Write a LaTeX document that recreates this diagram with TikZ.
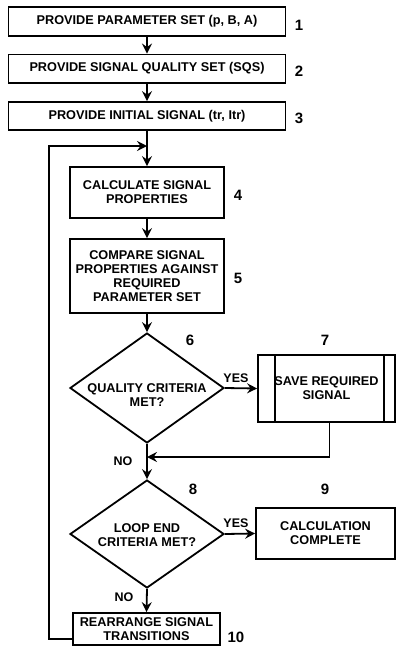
\documentclass[tikz,border=0pt]{standalone}
\usepackage{fontspec}
\setmainfont{Liberation Sans}
\usetikzlibrary{shapes.geometric,arrows.meta,calc}
\begin{document}
\begin{tikzpicture}[x=1pt,y=-1pt,
  line width=1.8pt,
  every node/.style={font=\bfseries\fontsize{12.7}{14}\selectfont, align=center, inner sep=0pt},
  stepbox/.style={draw, rectangle, line width=1.8pt},
  decision/.style={draw, diamond, line width=1.8pt},
  num/.style={font=\bfseries\fontsize{15}{17}\selectfont},
  yn/.style={font=\bfseries\fontsize{12.5}{14}\selectfont},
  arr/.style={-{Stealth[length=10pt,width=10pt,inset=3.5pt]}, line width=1.8pt}]
\useasboundingbox (0,0) rectangle (396,667);
% boxes
\node[stepbox, minimum width=277pt, minimum height=29pt] (b1) at (147,21.7) {PROVIDE PARAMETER SET (p, B, A)};
\node[stepbox, minimum width=277pt, minimum height=28.5pt] (b2) at (147,68.7) {PROVIDE SIGNAL QUALITY SET (SQS)};
\node[stepbox, minimum width=277pt, minimum height=28pt] (b3) at (147,116) {PROVIDE INITIAL SIGNAL (tr, Itr)};
\node[stepbox, minimum width=154pt, minimum height=51pt] (b4) at (147,192.5) {CALCULATE SIGNAL\\PROPERTIES};
\node[stepbox, minimum width=154pt, minimum height=74pt] (b5) at (147,276) {COMPARE SIGNAL\\PROPERTIES AGAINST\\REQUIRED\\PARAMETER SET};
\node[decision, minimum width=154pt, minimum height=110pt] (d6) at (147,388) {};
\node (d6t) at (147,395) {QUALITY CRITERIA\\MET?};
\node[stepbox, minimum width=137pt, minimum height=67pt] (b7) at (326.5,388.5) {SAVE REQUIRED\\SIGNAL};
\draw ($(b7.north west)+(18,0)$) -- ($(b7.south west)+(18,0)$);
\draw ($(b7.north east)+(-12,0)$) -- ($(b7.south east)+(-12,0)$);
\node[decision, minimum width=154pt, minimum height=108pt] (d8) at (147,534) {};
\node (d8t) at (147,535) {LOOP END\\CRITERIA MET?};
\node[stepbox, minimum width=139pt, minimum height=51pt] (b9) at (325.5,533.5) {CALCULATION\\COMPLETE};
\node[stepbox, minimum width=147pt, minimum height=32pt] (b10) at (146.5,629) {REARRANGE SIGNAL\\TRANSITIONS};
% numbers
\node[num] (n1) at (299,25) {1};
\node[num] (n2) at (299,71) {2};
\node[num] (n3) at (299,118) {3};
\node[num] (n4) at (238,195) {4};
\node[num] (n5) at (238,278) {5};
\node[num] (n6) at (190,340) {6};
\node[num] (n7) at (325,340) {7};
\node[num] (n8) at (193,489) {8};
\node[num] (n9) at (325,489) {9};
\node[num] (n10) at (236,637) {10};
% yes/no
\node[yn] (y6) at (236,378) {YES};
\node[yn] (no6) at (123,461) {NO};
\node[yn] (y8) at (236,523) {YES};
\node[yn] (no8) at (124,597) {NO};
% coordinates
\coordinate (j0) at (147,146);
\coordinate (j1) at (147,457);
\coordinate (l1) at (49,639);
% connectors
\draw[arr] (b1.south) -- (b2.north);
\draw[arr] (b2.south) -- (b3.north);
\draw[arr] (b3.south) -- (b4.north);
\draw[arr] (b4.south) -- (b5.north);
\draw[arr] (b5.south) -- (d6.north);
\draw[arr] (d6.east) -- (b7.west);
\draw[arr] (d6.south) -- (d8.north);
\draw[arr] ([xshift=3pt]b7.south) |- (j1);
\draw[arr] (d8.east) -- (b9.west);
\draw[arr] (d8.south) -- (b10.north);
\draw[arr] (b10.west |- l1) -- (l1) |- (j0);
\end{tikzpicture}
\end{document}
